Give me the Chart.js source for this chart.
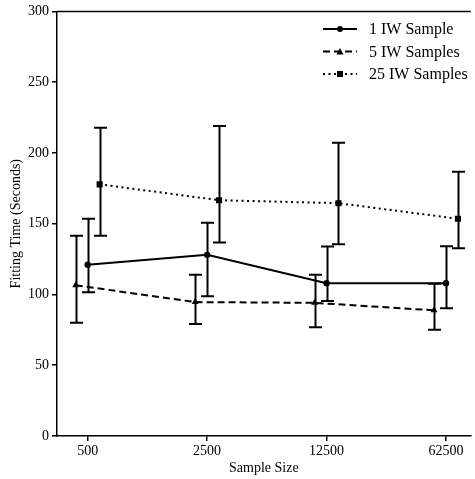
<!DOCTYPE html>
<html>
<head>
<meta charset="utf-8">
<script src="https://cdn.jsdelivr.net/npm/chart.js@4/dist/chart.umd.min.js"></script>
<style>
  html, body { margin: 0; padding: 0; background: #fff; overflow: hidden; }
  #wrap { width: 475px; height: 479px; }
</style>
</head>
<body>
<div id="wrap"><canvas id="c1"></canvas></div>
<script>
// data
const sampleSizes = ['500', '2500', '12500', '62500'];

const iw1Mean = [121, 128, 108, 108];
const iw1Low  = [101.6, 98.8, 95.3, 90.2];
const iw1High = [153.5, 150.7, 133.9, 134];

const iw5Mean = [106.5, 94.6, 94.1, 88.8];
const iw5Low  = [80, 79.2, 76.9, 75];
const iw5High = [141.4, 114, 114, 107.5];

const iw25Mean = [177.8, 166.6, 164.5, 153.5];
const iw25Low  = [141.4, 136.7, 135.5, 132.7];
const iw25High = [217.8, 219, 207.2, 186.7];

const yTicks = [0, 50, 100, 150, 200, 250, 300];

const FONT = "'Liberation Serif', 'DejaVu Serif', serif";

// points side by side around each tick
function pts(vals, shift) {
  return vals.map((v, i) => ({ x: i + shift, y: v }));
}

const errors = [
  { low: iw1Low, high: iw1High },
  { low: iw5Low, high: iw5High },
  { low: iw25Low, high: iw25High }
];

// error bars + top frame line + legend
const extras = {
  id: 'extras',
  afterDatasetsDraw(chart) {
    const ctx = chart.ctx;
    const xs = chart.scales.x, ys = chart.scales.y;
    const a = chart.chartArea;
    ctx.save();
    ctx.strokeStyle = '#000';
    ctx.lineWidth = 2;
    ctx.setLineDash([]);
    chart.data.datasets.forEach((ds, k) => {
      ds.data.forEach((p, i) => {
        const px = Math.round(xs.getPixelForValue(p.x)) + 0.5;
        const y1 = ys.getPixelForValue(errors[k].low[i]);
        const y2 = ys.getPixelForValue(errors[k].high[i]);
        ctx.beginPath();
        ctx.moveTo(px, y1); ctx.lineTo(px, y2);
        ctx.moveTo(px - 6.5, y1); ctx.lineTo(px + 6.5, y1);
        ctx.moveTo(px - 6.5, y2); ctx.lineTo(px + 6.5, y2);
        ctx.stroke();
      });
    });
    // top spine
    ctx.lineWidth = 1.5;
    ctx.beginPath();
    ctx.moveTo(a.left, a.top); ctx.lineTo(a.right, a.top);
    ctx.stroke();

    // legend
    ctx.font = '16px ' + FONT;
    ctx.fillStyle = '#000';
    ctx.textBaseline = 'middle';
    chart.data.datasets.forEach((ds, k) => {
      const ly = 29 + k * 22.5;
      ctx.lineWidth = ds.borderWidth;
      ctx.setLineDash(ds.borderDash || []);
      ctx.beginPath();
      ctx.moveTo(323, ly); ctx.lineTo(357, ly);
      ctx.stroke();
      ctx.setLineDash([]);
      const mx = 340;
      ctx.beginPath();
      if (ds.pointStyle === 'circle') {
        ctx.arc(mx, ly, 3, 0, Math.PI * 2);
      } else if (ds.pointStyle === 'triangle') {
        ctx.moveTo(mx, ly - 3.5); ctx.lineTo(mx + 3.5, ly + 3); ctx.lineTo(mx - 3.5, ly + 3); ctx.closePath();
      } else {
        ctx.rect(mx - 3, ly - 3, 6, 6);
      }
      ctx.fill();
      ctx.fillText(ds.label, 369, ly + 1);
    });
    ctx.restore();
  }
};

new Chart(document.getElementById('c1'), {
  type: 'line',
  data: {
    datasets: [
      {
        label: '1 IW Sample',
        data: pts(iw1Mean, 0),
        borderColor: '#000', backgroundColor: '#000',
        borderWidth: 2, pointStyle: 'circle', pointRadius: 3.2, pointBorderWidth: 0
      },
      {
        label: '5 IW Samples',
        data: pts(iw5Mean, -0.1),
        borderColor: '#000', backgroundColor: '#000',
        borderWidth: 2, borderDash: [7, 4], pointStyle: 'triangle', pointRadius: 4, pointBorderWidth: 0
      },
      {
        label: '25 IW Samples',
        data: pts(iw25Mean, 0.1),
        borderColor: '#000', backgroundColor: '#000',
        borderWidth: 2, borderDash: [2, 3.5], pointStyle: 'rect', pointRadius: 4.3, pointBorderWidth: 0
      }
    ]
  },
  options: {
    responsive: true,
    maintainAspectRatio: false,
    animation: false,
    layout: { padding: { top: 8, right: 0, left: 8, bottom: 0 } },
    plugins: { legend: { display: false }, tooltip: { enabled: false } },
    scales: {
      x: {
        type: 'linear',
        min: -0.257,
        max: 3.207,
        afterBuildTicks(s) { s.ticks = sampleSizes.map((_, i) => ({ value: i })); },
        afterFit(s) { s.height = 43; },
        ticks: {
          callback: (v) => sampleSizes[v],
          color: '#000', font: { family: FONT, size: 14 }, padding: 2, maxRotation: 0
        },
        grid: { drawOnChartArea: false, drawTicks: true, tickLength: 5, color: '#000', lineWidth: 1.5 },
        border: { display: true, color: '#000', width: 1.5 },
        title: { display: true, text: 'Sample Size', color: '#000', font: { family: FONT, size: 14 }, padding: { top: 0, bottom: 2 } }
      },
      y: {
        min: 0,
        max: 300,
        afterBuildTicks(s) { s.ticks = yTicks.map(v => ({ value: v })); },
        afterFit(s) { s.width = 49; },
        ticks: { color: '#000', font: { family: FONT, size: 14 }, padding: 3 },
        grid: { drawOnChartArea: false, drawTicks: true, tickLength: 5, color: '#000', lineWidth: 1.5 },
        border: { display: true, color: '#000', width: 1.5 },
        title: { display: true, text: 'Fitting Time (Seconds)', color: '#000', font: { family: FONT, size: 14 }, padding: { top: 0, bottom: 0 } }
      }
    }
  },
  plugins: [extras]
});
</script>
</body>
</html>
